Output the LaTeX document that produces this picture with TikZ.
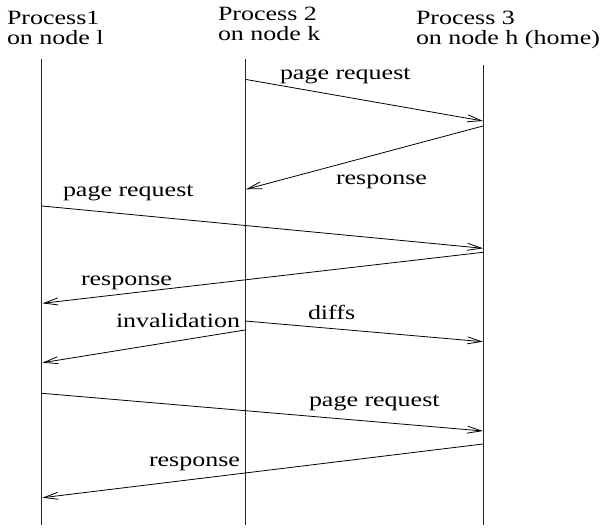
\documentclass[tikz,border=0pt]{standalone}
\usepackage{graphicx}
\usepackage{fontspec}
\setmainfont{Liberation Serif}
\usetikzlibrary{arrows.meta}
\newcommand{\sx}[1]{\scalebox{1.28}[1]{#1}}
\newcommand{\twolines}[2]{\begin{tabular}[t]{@{}l@{}}\sx{#1}\\\sx{#2}\end{tabular}}
\begin{document}
\begin{tikzpicture}[x=1pt,y=-1pt,
  lbl/.style={inner sep=0pt, outer sep=0pt, font=\fontsize{20.3}{16.5}\selectfont, anchor=base west},
  life/.style={line width=0.9pt, black!85},
  msg/.style={line width=0.8pt, -{Straight Barb[length=14pt,width=7pt]}}]
\useasboundingbox (0,0) rectangle (603,529);
% headers
\node[lbl] (h1) at (7,25) {\twolines{Process1}{on node l}};
\node[lbl] (h2) at (218,21) {\twolines{Process 2}{on node k}};
\node[lbl] (h3) at (416,25) {\twolines{Process 3}{on node h (home)}};
% lifelines
\coordinate (Lt) at (41.7,59);  \coordinate (Lb) at (41.7,525);
\coordinate (Mt) at (245,59);   \coordinate (Mb) at (245,525);
\coordinate (Rt) at (483.5,65); \coordinate (Rb) at (483.5,525);
\draw[life] (Lt) -- (Lb);
\draw[life] (Mt) -- (Mb);
\draw[life] (Rt) -- (Rb);
% message end points
\coordinate (a1) at (245,79.3);  \coordinate (b1) at (483,121);
\coordinate (a2) at (483,126);   \coordinate (b2) at (246,189.3);
\coordinate (a3) at (42,206);    \coordinate (b3) at (483,248.3);
\coordinate (a4) at (483,252.3); \coordinate (b4) at (42.5,303.3);
\coordinate (a5) at (245,321);   \coordinate (b5) at (483,341.7);
\coordinate (a6) at (245,330);   \coordinate (b6) at (42.5,362.7);
\coordinate (a7) at (42,393.3);  \coordinate (b7) at (483,431);
\coordinate (a8) at (483,444);   \coordinate (b8) at (42.5,497.7);
\draw[msg] (a1) -- (b1);
\draw[msg] (a2) -- (b2);
\draw[msg] (a3) -- (b3);
\draw[msg] (a4) -- (b4);
\draw[msg] (a5) -- (b5);
\draw[msg] (a6) -- (b6);
\draw[msg] (a7) -- (b7);
\draw[msg] (a8) -- (b8);
% labels
\node[lbl] (l1) at (280,80) {\sx{page request}};
\node[lbl] (l2) at (336,185) {\sx{response}};
\node[lbl] (l3) at (63,197) {\sx{page request}};
\node[lbl] (l4) at (81,286) {\sx{response}};
\node[lbl] (l5) at (308,320) {\sx{diffs}};
\node[lbl] (l6) at (116,328) {\sx{invalidation}};
\node[lbl] (l7) at (309,407) {\sx{page request}};
\node[lbl] (l8) at (149,467) {\sx{response}};
\end{tikzpicture}
\end{document}
